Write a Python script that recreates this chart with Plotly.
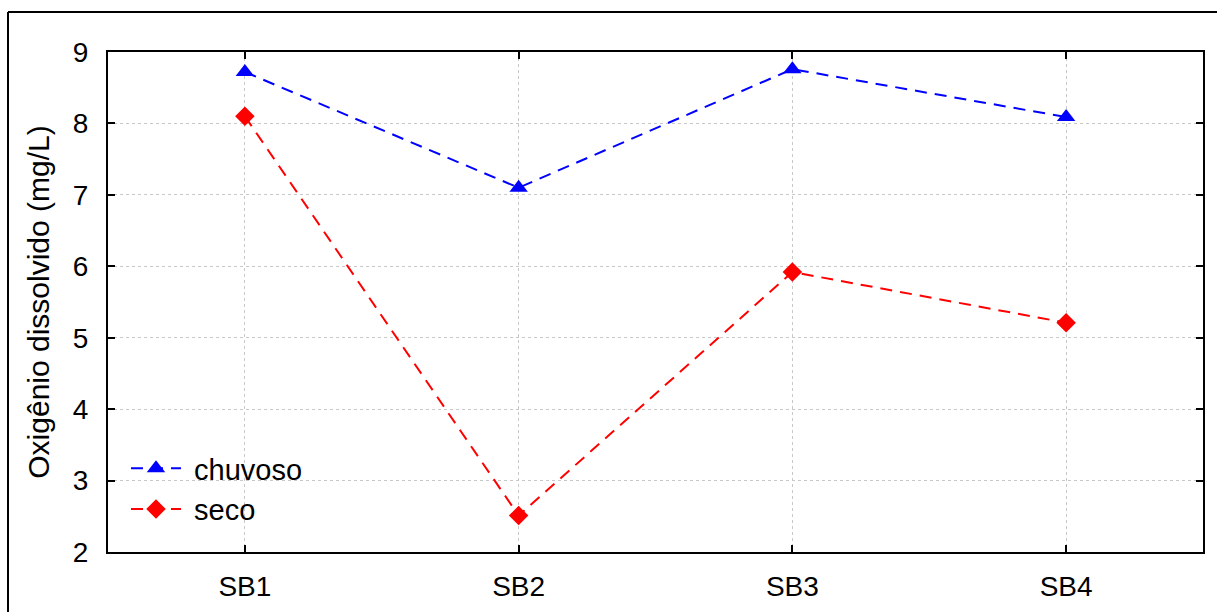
import plotly.graph_objects as go

categories = ["SB1", "SB2", "SB3", "SB4"]
chuvoso = [8.72, 7.10, 8.76, 8.09]
seco = [8.10, 2.51, 5.92, 5.21]
y_ticks = [2, 3, 4, 5, 6, 7, 8, 9]

FONT = "Liberation Sans, Arial, sans-serif"

fig = go.Figure()
fig.add_trace(go.Scatter(
    x=categories, y=chuvoso, name=" chuvoso", mode="lines+markers",
    line=dict(color="#0000ff", width=2, dash="12px,8px"),
    marker=dict(symbol="triangle-up", size=16, color="#0000ff"),
))
fig.add_trace(go.Scatter(
    x=categories, y=seco, name=" seco", mode="lines+markers",
    line=dict(color="#ff0000", width=2, dash="12px,8px"),
    marker=dict(symbol="diamond", size=15, color="#ff0000"),
))

axis_common = dict(
    showline=True, linecolor="black", linewidth=2, mirror="ticks",
    ticks="inside", ticklen=7, tickwidth=2, tickcolor="black",
    showgrid=True, gridcolor="#c8c8c8", griddash="dot", gridwidth=1,
    zeroline=False, automargin=False,
    tickfont=dict(family=FONT, size=28, color="black"),
)

fig.update_xaxes(range=[-0.5, 3.5], ticklabelstandoff=8, **axis_common)
fig.update_yaxes(range=[2, 9], tickvals=y_ticks, ticklabelstandoff=12,
                 title=dict(text="Oxigênio dissolvido (mg/L)",
                            font=dict(family=FONT, size=30, color="black"),
                            standoff=14),
                 **axis_common)

fig.update_layout(
    width=1217, height=612,
    margin=dict(l=108, r=14, t=52, b=60),
    plot_bgcolor="white", paper_bgcolor="white",
    showlegend=True,
    legend=dict(x=(126 - 108) / 1095, y=0.218, xanchor="left", yanchor="top",
                bgcolor="rgba(0,0,0,0)",
                font=dict(family=FONT, size=29, color="black"),
                tracegroupgap=0, itemwidth=50),
    font=dict(family=FONT),
)

# outer frame (top and left edges visible)
fig.add_shape(type="line", xref="paper", yref="paper",
              x0=(8 - 108) / 1095, x1=1.2, y0=(552 - 12) / 500, y1=(552 - 12) / 500,
              line=dict(color="black", width=2))
fig.add_shape(type="line", xref="paper", yref="paper",
              x0=(8 - 108) / 1095, x1=(8 - 108) / 1095, y0=-0.2, y1=(552 - 12) / 500,
              line=dict(color="black", width=2))

fig.write_html("out.html")
